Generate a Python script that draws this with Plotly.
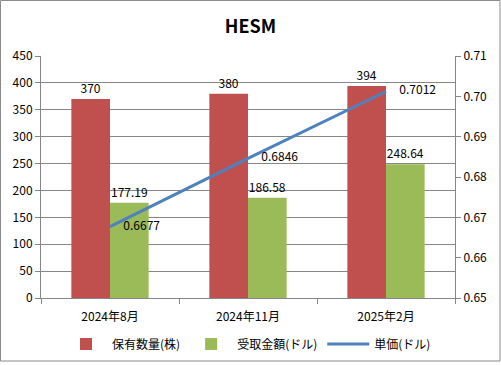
import plotly.graph_objects as go

categories = ["2024年8月", "2024年11月", "2025年2月"]
shares = [370, 380, 394]
received = [177.19, 186.58, 248.64]
unit_price = [0.6677, 0.6846, 0.7012]
share_labels = ["370", "380", "394"]
received_labels = ["177.19", "186.58", "248.64"]
price_labels = ["0.6677", "0.6846", "0.7012"]

FONT = "Noto Sans CJK JP"
GRID = "#868686"

fig = go.Figure()
fig.add_trace(go.Bar(
    x=categories, y=shares, name="保有数量(株)",
    marker=dict(color="#C0504D", line=dict(width=0)),
    text=share_labels, textposition="outside", textfont=dict(size=12, color="#000"),
    cliponaxis=False,
))
fig.add_trace(go.Bar(
    x=categories, y=received, name="受取金額(ドル)",
    marker=dict(color="#9BBB59", line=dict(width=0)),
    text=received_labels, textposition="outside", textfont=dict(size=12, color="#000"),
    cliponaxis=False,
))
fig.add_trace(go.Scatter(
    x=categories, y=unit_price, name="単価(ドル)", yaxis="y2",
    mode="lines+text", line=dict(color="#4F81BD", width=3),
    text=["\u2007\u2007" + t for t in price_labels], textposition="middle right",
    textfont=dict(size=12, color="#000"), cliponaxis=False,
))

L, R, T, B = 41, 46, 56, 67
W, H = 501, 365
pw, ph = W - L - R, H - T - B

def px_x(p):
    return (p - L) / pw

def px_y(p):
    return (H - B - p) / ph

fig.update_layout(
    width=W, height=H,
    margin=dict(l=L, r=R, t=T, b=B, autoexpand=False),
    paper_bgcolor="white", plot_bgcolor="white",
    font=dict(family=FONT, size=12, color="#000"),
    title=dict(text="<b>HESM</b>", x=0.5, xanchor="center", y=1 - 27 / H, yanchor="middle",
               font=dict(family=FONT, size=18, color="#000")),
    barmode="group", bargap=0.44, bargroupgap=0,
    showlegend=True,
    legend=dict(orientation="h", x=0.5, xanchor="center", y=px_y(344), yanchor="middle",
                font=dict(size=12), itemwidth=42, traceorder="normal"),
    xaxis=dict(type="category", showline=True, linecolor=GRID, linewidth=1,
               ticks="outside", tickson="boundaries", ticklen=5, tickcolor=GRID,
               showgrid=False, tickfont=dict(size=12), ticklabelstandoff=8),
    yaxis=dict(range=[0, 450], dtick=50, showgrid=True, gridcolor=GRID, gridwidth=1,
               showline=True, linecolor=GRID, ticks="outside", ticklen=5, tickcolor=GRID,
               zeroline=False, tickfont=dict(size=12)),
    yaxis2=dict(range=[0.65, 0.71], dtick=0.01, tickformat=".2f", overlaying="y", side="right",
                showgrid=False, showline=True, linecolor=GRID, ticks="outside", ticklen=5,
                tickcolor=GRID, zeroline=False, tickfont=dict(size=12)),
)

fig.add_shape(type="rect", xref="paper", yref="paper",
              x0=px_x(0.5), x1=px_x(500), y0=px_y(361), y1=px_y(0.5),
              line=dict(color="#8c8c8c", width=1), fillcolor="rgba(0,0,0,0)", layer="below")

fig.write_html("out.html")
